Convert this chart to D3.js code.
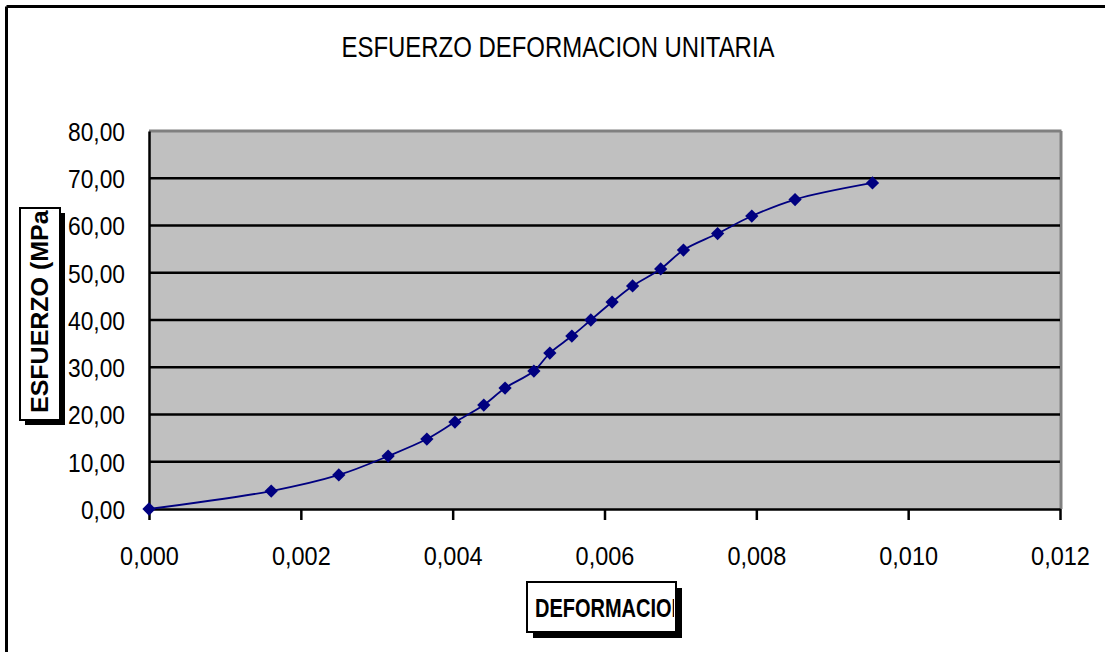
<!DOCTYPE html>
<html>
<head>
<meta charset="utf-8">
<script src="https://cdn.jsdelivr.net/npm/d3@7"></script>
<style>
  html, body { margin: 0; padding: 0; background: #fff; }
  svg { display: block; }
</style>
</head>
<body>
<svg id="chart" width="1105" height="652"></svg>
<script>
// ---- Data ----
const deformacion = [0, 0.00161, 0.00250, 0.00315, 0.00366, 0.00403, 0.00441, 0.00469, 0.00507, 0.00528, 0.00557, 0.00582, 0.00610, 0.00637, 0.00674, 0.00704, 0.00749, 0.00794, 0.00851, 0.00953];
const esfuerzo    = [0, 3.8, 7.2, 11.2, 14.8, 18.4, 22.0, 25.6, 29.2, 33.0, 36.6, 40.0, 43.8, 47.2, 50.8, 54.8, 58.3, 62.0, 65.5, 69.0];
const xTicks = [0, 0.002, 0.004, 0.006, 0.008, 0.010, 0.012];
const yTicks = [0, 10, 20, 30, 40, 50, 60, 70, 80];
const titleText = "ESFUERZO DEFORMACION UNITARIA";
const xTitle = "DEFORMACION";
const yTitle = "ESFUERZO (MPa)";

const svg = d3.select("#chart");
const font = "'Liberation Sans', Arial, sans-serif";

const L = 149, R = 1060, T = 131, B = 509;
const x = d3.scaleLinear().domain([0, 0.012]).range([L, R]);
const y = d3.scaleLinear().domain([0, 80]).range([B, T]);

// narrow text width estimate (condensed face)
const narrowLen = (s, digit, comma) => Array.from(s).reduce((a, c) => a + (c === "," ? comma : digit), 0);

// outer frame (top & left visible)
svg.append("line").attr("x1", 6.5).attr("x2", 1105).attr("y1", 6.5).attr("y2", 6.5)
  .attr("stroke", "#000").attr("stroke-width", 3);
svg.append("line").attr("x1", 6.5).attr("x2", 6.5).attr("y1", 6.5).attr("y2", 652)
  .attr("stroke", "#000").attr("stroke-width", 3);

// title
svg.append("text").attr("x", 558).attr("y", 57).attr("text-anchor", "middle")
  .attr("font-family", font).attr("font-size", 30).attr("fill", "#000")
  .attr("textLength", 433).attr("lengthAdjust", "spacingAndGlyphs")
  .text(titleText);

// plot area
svg.append("rect").attr("x", L).attr("y", T).attr("width", R - L).attr("height", B - T)
  .attr("fill", "#c0c0c0");
svg.append("line").attr("x1", L).attr("x2", R + 1.5).attr("y1", T).attr("y2", T)
  .attr("stroke", "#808080").attr("stroke-width", 3);
svg.append("line").attr("x1", R + 1).attr("x2", R + 1).attr("y1", T).attr("y2", B)
  .attr("stroke", "#808080").attr("stroke-width", 3);

// gridlines
svg.append("g").selectAll("line").data(yTicks.filter(d => d > 0 && d < 80)).join("line")
  .attr("x1", L).attr("x2", R).attr("y1", d => y(d)).attr("y2", d => y(d))
  .attr("stroke", "#000").attr("stroke-width", 2.5);

// y axis
const yFmt = d => d3.format(".2f")(d).replace(".", ",");
const yAxis = d3.axisLeft(y).tickValues(yTicks).tickSize(0).tickPadding(24).tickFormat(yFmt);
const gy = svg.append("g").attr("transform", `translate(${L},0)`).call(yAxis);
gy.select(".domain").attr("stroke", "#000").attr("stroke-width", 2.5);
gy.selectAll("text").attr("font-family", font).attr("font-size", 26).attr("fill", "#000")
  .attr("dy", "0.36em")
  .attr("textLength", d => narrowLen(yFmt(d), 12.9, 5.4)).attr("lengthAdjust", "spacingAndGlyphs");

// x axis
const xFmt = d => d3.format(".3f")(d).replace(".", ",");
const xAxis = d3.axisBottom(x).tickValues(xTicks).tickSize(11).tickSizeOuter(0).tickFormat(xFmt);
const gx = svg.append("g").attr("transform", `translate(0,${B})`).call(xAxis);
gx.select(".domain").attr("stroke", "#000").attr("stroke-width", 2.5);
gx.selectAll(".tick line").attr("stroke", "#000").attr("stroke-width", 2.5);
gx.selectAll("text").attr("font-family", font).attr("font-size", 26).attr("fill", "#000")
  .attr("y", 56).attr("dy", 0)
  .attr("textLength", d => narrowLen(xFmt(d), 13.3, 5.6)).attr("lengthAdjust", "spacingAndGlyphs");

// data
const pts = deformacion.map((d, i) => [d, esfuerzo[i]]);
const line = d3.line().x(d => x(d[0])).y(d => y(d[1])).curve(d3.curveCatmullRom.alpha(0.5));
svg.append("path").datum(pts).attr("d", line).attr("fill", "none")
  .attr("stroke", "#000080").attr("stroke-width", 1.8);
const sym = d3.symbol(d3.symbolSquare, 88);
svg.append("g").selectAll("path").data(pts).join("path")
  .attr("d", sym)
  .attr("transform", d => `translate(${x(d[0])},${y(d[1])}) rotate(45)`)
  .attr("fill", "#000080");

// y axis title box
const defs = svg.append("defs");
defs.append("clipPath").attr("id", "clipY").append("rect")
  .attr("x", 21).attr("y", 210).attr("width", 38).attr("height", 209);
svg.append("rect").attr("x", 25).attr("y", 213).attr("width", 40).attr("height", 212).attr("fill", "#000");
svg.append("rect").attr("x", 20).attr("y", 208).attr("width", 40).attr("height", 212)
  .attr("fill", "#fff").attr("stroke", "#000").attr("stroke-width", 2);
svg.append("g").attr("clip-path", "url(#clipY)")
  .append("text").attr("transform", "translate(48,413) rotate(-90)")
  .attr("font-family", font).attr("font-weight", "bold").attr("font-size", 23).attr("fill", "#000")
  .attr("textLength", 211).attr("lengthAdjust", "spacingAndGlyphs")
  .text(yTitle);

// x axis title box
defs.append("clipPath").attr("id", "clipX").append("rect")
  .attr("x", 528).attr("y", 583).attr("width", 146).attr("height", 48);
svg.append("rect").attr("x", 533).attr("y", 588).attr("width", 149).attr("height", 50).attr("fill", "#000");
svg.append("rect").attr("x", 527).attr("y", 582).attr("width", 149).attr("height", 50)
  .attr("fill", "#fff").attr("stroke", "#000").attr("stroke-width", 2);
svg.append("g").attr("clip-path", "url(#clipX)")
  .append("text").attr("x", 535).attr("y", 617)
  .attr("font-family", font).attr("font-weight", "bold").attr("font-size", 25).attr("fill", "#000")
  .attr("textLength", 151).attr("lengthAdjust", "spacingAndGlyphs")
  .text(xTitle);
</script>
</body>
</html>
